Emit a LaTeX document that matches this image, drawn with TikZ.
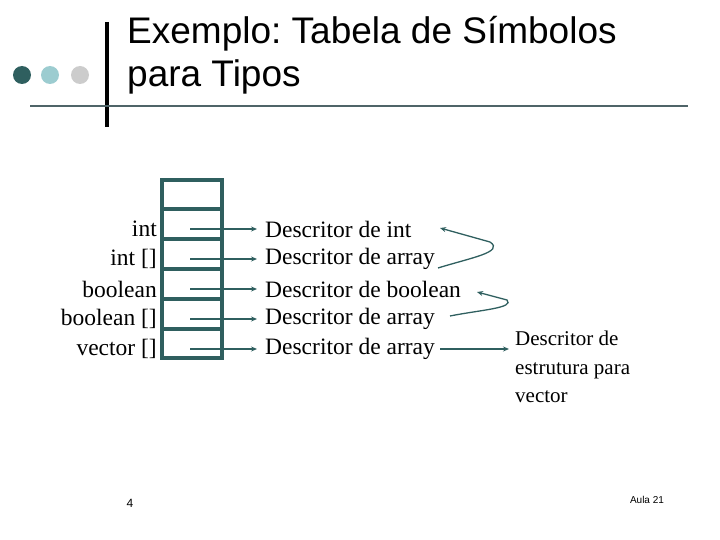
\documentclass[tikz,border=0pt]{standalone}
\usetikzlibrary{arrows.meta}
\usepackage{fontspec}
\setmainfont{Liberation Serif}
\newfontfamily\arialf{Liberation Sans}
\frenchspacing
\definecolor{teal}{HTML}{2F5F5F}
\definecolor{lteal}{HTML}{9CCCD0}
\definecolor{lgray}{HTML}{CCCCCC}
\definecolor{rule}{HTML}{4F6468}
\begin{document}
\begin{tikzpicture}[x=1pt,y=-1pt,
  body/.style={font=\fontsize{23.5}{30}\selectfont,inner sep=0pt},
  lbl/.style={body,anchor=east},
  desc/.style={body,anchor=west},
  arr/.style={-{Stealth[length=6pt,width=5pt]},teal,line width=1.3pt},
  tbl/.style={draw=teal,line width=3.5pt}]
\useasboundingbox (0,0) rectangle (720,540);
% header
\fill[teal] (22,75) circle (9);
\fill[lteal] (50,75) circle (9);
\fill[lgray] (80,75) circle (9);
\draw[line width=3.5pt] (107,22) -- (107,127);
\draw[rule,line width=2pt] (30,106) -- (688,106);
\node[anchor=west,inner sep=0pt,font=\arialf\fontsize{37}{43}\selectfont,align=left] (title) at (127,55) {Exemplo: Tabela de Símbolos\\para Tipos};
% table
\draw[tbl] (162,180) rectangle (222,358);
\foreach \y in {209,239,269,299,329} \draw[tbl] (162,\y) -- (222,\y);
\foreach \i/\t/\d/\y in {1/int/int/229,2/int []/array/259,3/boolean/boolean/289,4/boolean []/array/319,5/vector []/array/349}{
  \node[lbl] (l\i) at (157,\y) {\t};
  \coordinate (s\i) at (190,\y);
  \node[desc] (d\i) at (265,\y) {Descritor de \d};
  \draw[arr] (s\i) -- ([xshift=-8pt]d\i.west);
}
\node[body,anchor=north west,align=left,font=\fontsize{21}{28.5}\selectfont] (vec) at (515,331) {Descritor de\\estrutura para\\vector};
\coordinate (v0) at (440,349);
\draw[arr] (v0) -- ([xshift=-6pt]vec.west |- d5);
\coordinate (a1) at (438,268);
\coordinate (c1) at (490,242);
\coordinate (e1) at (440,228);
\coordinate (a2) at (450,316);
\coordinate (e2) at (477,292);
\draw[arr] (a1) .. controls (470,258) and (505,252) .. (c1) -- (e1);
\draw[arr] (a2) .. controls (480,310) and (515,308) .. (507,300) -- (e2);
\node[font=\arialf\fontsize{12}{14}\selectfont] (pg) at (130,503) {4};
\node[font=\arialf\fontsize{10}{12}\selectfont] (aula) at (647,500) {Aula 21};
\end{tikzpicture}
\end{document}
